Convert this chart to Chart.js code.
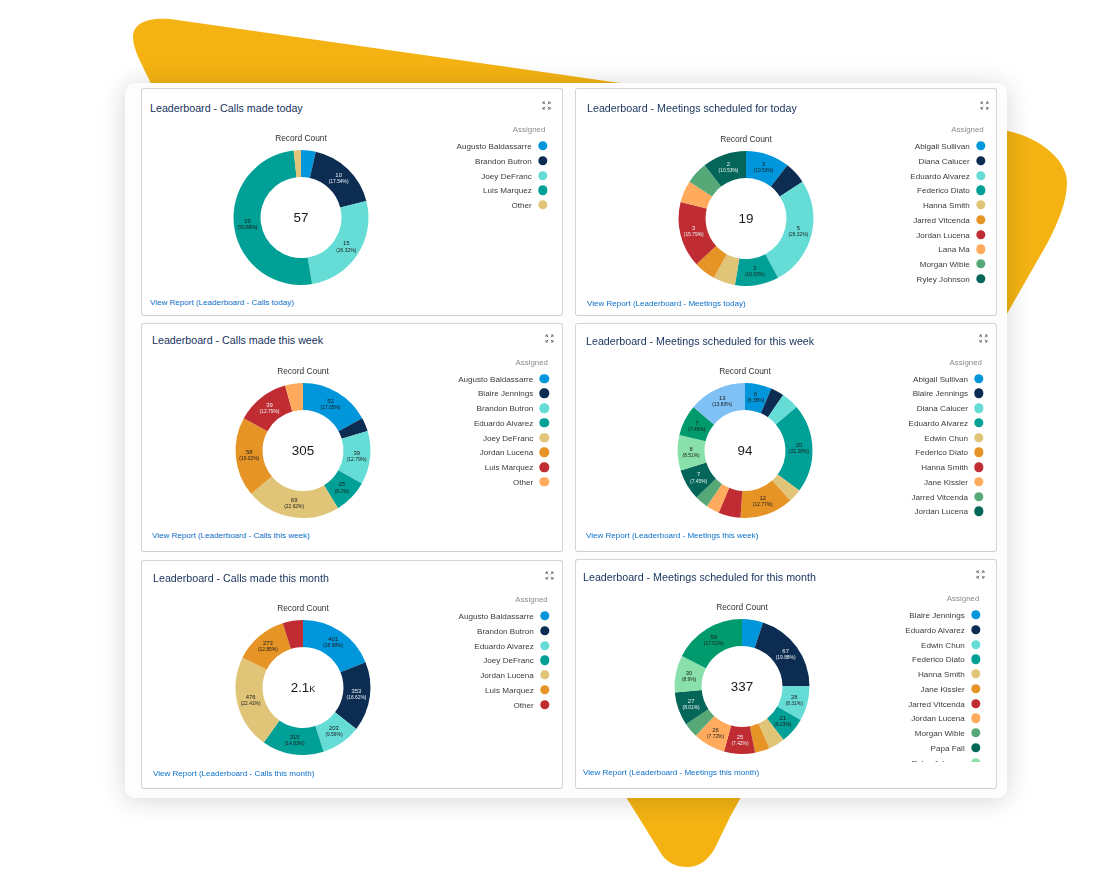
<!DOCTYPE html>
<html><head><meta charset="utf-8">
<script src="https://cdn.jsdelivr.net/npm/chart.js@4"></script>
<style>
html,body{margin:0;padding:0;background:#fff;width:1120px;height:878px;overflow:hidden;font-family:"Liberation Sans",Arial,sans-serif;}
#stage{position:absolute;left:0;top:0;width:1120px;height:878px;filter:blur(0.35px);}
#blob{position:absolute;left:0;top:0;}
#panel{position:absolute;left:125px;top:82.5px;width:882px;height:715px;background:#fdfdfd;border-radius:10px;box-shadow:0 2px 26px rgba(0,0,0,.17);}
.card{position:absolute;box-sizing:border-box;background:#fff;border:1px solid #d4d4d4;border-bottom:1.5px solid #cfcfcf;border-radius:3px;}
.ttl{position:absolute;transform:translateY(-50%);font-size:10.7px;color:#16325c;white-space:nowrap;}
.lnk{position:absolute;transform:translateY(-50%);font-size:8.05px;color:#0b6fc9;white-space:nowrap;}
.ico{position:absolute;line-height:0;}
.ico svg{display:block;}
canvas{position:absolute;}
.leg{position:absolute;overflow:hidden;}
.leg .hd{position:absolute;transform:translateY(-50%);font-size:7.9px;color:#8a8a8a;white-space:nowrap;}
.leg .it{position:absolute;transform:translateY(-50%);font-size:8.1px;color:#3b3b3b;white-space:nowrap;text-align:right;}
.leg .dot{position:absolute;width:9.4px;height:9.4px;border-radius:50%;transform:translate(-50%,-50%);}
</style></head><body>
<div id="stage">
<svg id="blob" width="1120" height="878"><path fill="#f4b313" d="M152,86 C142,64 133,50 133,37 C133,24 146,17 170,19 L613,82 L1000,130 L1008,131 C1040,138 1067,160 1067,182 C1067,202 1058,222 1048,242 L1008,312 L730,817 L714,850 C706,862 698,867 687,867 C676,867 668,863 662,855 L626,797 Z"/></svg>
<div id="panel"></div>
</div>
<script>
const stage = document.getElementById('stage');
const palette = ['#0096db','#0c2c52','#65dcd6','#00a096','#e0c478','#e79426','#bf2d32','#ffaa5c','#56a877','#046659','#8ae0aa','#009a6c','#7fc1f5'];
const lightText = ['#0c2c52','#bf2d32','#046659'];

const titles = ['Leaderboard - Calls made today','Leaderboard - Meetings scheduled for today','Leaderboard - Calls made this week','Leaderboard - Meetings scheduled for this week','Leaderboard - Calls made this month','Leaderboard - Meetings scheduled for this month'];
const links = ['View Report (Leaderboard - Calls today)','View Report (Leaderboard - Meetings today)','View Report (Leaderboard - Calls this week)','View Report (Leaderboard - Meetings this week)','View Report (Leaderboard - Calls this month)','View Report (Leaderboard - Meetings this month)'];
const centerLabels = ['57','19','305','94','2.1k','337'];
const legendVisible = [5,10,8,10,7,11];

const namesCallsToday = ['Augusto Baldassarre','Brandon Butron','Joey DeFranc','Luis Marquez','Other'];
const valuesCallsToday = [2,10,15,29,1];
const namesMeetToday = ['Abigail Sullivan','Diana Calucer','Eduardo Alvarez','Federico Diato','Hanna Smith','Jarred Vitcenda','Jordan Lucena','Lana Ma','Morgan Wible','Ryley Johnson'];
const valuesMeetToday = [2,1,5,2,1,1,3,1,1,2];
const namesCallsWeek = ['Augusto Baldassarre','Blaire Jennings','Brandon Butron','Eduardo Alvarez','Joey DeFranc','Jordan Lucena','Luis Marquez','Other'];
const valuesCallsWeek = [52,10,39,25,69,58,39,13];
const namesMeetWeek = ['Abigail Sullivan','Blaire Jennings','Diana Calucer','Eduardo Alvarez','Edwin Chun','Federico Diato','Hanna Smith','Jane Kissler','Jarred Vitcenda','Jordan Lucena','Lana Ma','Morgan Wible','Ryley Johnson'];
const valuesMeetWeek = [6,3,4,20,3,12,5,3,3,7,8,7,13];
const namesCallsMonth = ['Augusto Baldassarre','Brandon Butron','Eduardo Alvarez','Joey DeFranc','Jordan Lucena','Luis Marquez','Other'];
const valuesCallsMonth = [401,353,203,315,476,273,103];
const namesMeetMonth = ['Blaire Jennings','Eduardo Alvarez','Edwin Chun','Federico Diato','Hanna Smith','Jane Kissler','Jarred Vitcenda','Jordan Lucena','Morgan Wible','Papa Fall','Ryley Johnson','Sales Team'];
const valuesMeetMonth = [17,67,28,21,13,12,25,26,12,27,30,59];

const allNames = [namesCallsToday,namesMeetToday,namesCallsWeek,namesMeetWeek,namesCallsMonth,namesMeetMonth];
const allValues = [valuesCallsToday,valuesMeetToday,valuesCallsWeek,valuesMeetWeek,valuesCallsMonth,valuesMeetMonth];

// page layout, one row per card
const layout = [
 {l:141,t:88, r:563,b:316, tx:150,ty:108,   lx:150,ly:302.3, ix:546.7,iy:105, cx:300.5,cy:217.8, dx:542.7,dy:146,   ay:129.3, ar:545.3, clip:316},
 {l:575,t:88, r:997,b:316, tx:587,ty:108,   lx:587,ly:302.7, ix:984.7,iy:105, cx:745.7,cy:218,   dx:980.7,dy:146,   ay:129.3, ar:983.7, clip:316},
 {l:141,t:323,r:563,b:552, tx:152,ty:340.3, lx:152,ly:535,   ix:549,  iy:338, cx:302.7,cy:450.2, dx:544.3,dy:378.7, ay:362,   ar:548,   clip:552},
 {l:575,t:323,r:997,b:552, tx:586,ty:340.5, lx:586,ly:535,   ix:983,  iy:338, cx:744.7,cy:450.2, dx:979,  dy:378.7, ay:362,   ar:982,   clip:552},
 {l:141,t:560,r:563,b:789, tx:153,ty:577.5, lx:153,ly:772.7, ix:549,  iy:575, cx:302.5,cy:687.7, dx:544.7,dy:616,   ay:599,   ar:547.7, clip:789},
 {l:575,t:559,r:997,b:789, tx:583,ty:576.6, lx:583,ly:772.3, ix:980.7,iy:574, cx:741.7,cy:686.8, dx:975.7,dy:615,   ay:598.3, ar:979.3, clip:761.7}
];

const sliceLabels = {
  id:'sliceLabels',
  afterDatasetsDraw(chart){
    const ctx = chart.ctx, ds = chart.data.datasets[0];
    const total = ds.data.reduce((a,b)=>a+b,0);
    ctx.save(); ctx.textAlign='center'; ctx.textBaseline='middle';
    chart.getDatasetMeta(0).data.forEach((arc,i)=>{
      const pct = ds.data[i]/total*100;
      if (pct < 6) return;
      const p = arc.tooltipPosition();
      ctx.fillStyle = lightText.includes(ds.backgroundColor[i]) ? '#eef2f5' : '#1c1c1c';
      ctx.font = '5.9px "Liberation Sans"';
      ctx.fillText(String(ds.data[i]), p.x, p.y-3.2);
      ctx.font = '4.9px "Liberation Sans"';
      ctx.fillText('('+Number(pct.toFixed(2))+'%)', p.x, p.y+3.2);
    });
    ctx.restore();
  }
};
const centerText = {
  id:'centerText',
  afterDraw(chart,args,opts){
    const a = chart.chartArea, ctx = chart.ctx;
    ctx.save(); ctx.textAlign='center'; ctx.textBaseline='middle'; ctx.fillStyle='#1a1a1a';
    ctx.font = 'small-caps 13.4px "Liberation Sans"';
    ctx.fillText(opts.text,(a.left+a.right)/2,(a.top+a.bottom)/2+0.5);
    ctx.restore();
  }
};
const htmlLegend = {
  id:'htmlLegend',
  afterUpdate(chart,args,opts){
    const g = opts.geom, box = document.createElement('div');
    box.className='leg';
    const left = g.l+150, top = g.t+1;
    box.style.cssText = `left:${left}px;top:${top}px;width:${g.r-left-1}px;height:${g.clip-top}px`;
    const hd = document.createElement('div');
    hd.className='hd'; hd.textContent='Assigned';
    hd.style.right=(g.r-1-g.ar)+'px'; hd.style.top=(g.ay-top)+'px';
    box.appendChild(hd);
    chart.options.plugins.legend.labels.generateLabels(chart).slice(0,opts.count).forEach((it,i)=>{
      const y = g.dy+i*14.75-top;
      const t = document.createElement('div');
      t.className='it'; t.textContent=it.text;
      t.style.right=(g.r-1-(g.dx-11))+'px'; t.style.top=y+'px';
      const d = document.createElement('div');
      d.className='dot'; d.style.background=it.fillStyle;
      d.style.left=(g.dx-left)+'px'; d.style.top=y+'px';
      box.appendChild(t); box.appendChild(d);
    });
    stage.appendChild(box);
  }
};
const iconSvg = '<svg width="9" height="9" viewBox="0 0 9 9" fill="none" stroke="#6f6f6f" stroke-width="1"><path d="M1 3V1H3M1 1L3.2 3.2M6 1H8V3M8 1L5.8 3.2M1 6V8H3M1 8L3.2 5.8M8 6V8H6M8 8L5.8 5.8"/></svg>';

layout.forEach((g,i)=>{
  const card = document.createElement('div');
  card.className='card';
  card.style.cssText=`left:${g.l}px;top:${g.t}px;width:${g.r-g.l}px;height:${g.b-g.t}px`;
  stage.appendChild(card);
  const add=(cls,txt,x,y)=>{const e=document.createElement('div');e.className=cls;e.textContent=txt;e.style.left=x+'px';e.style.top=y+'px';stage.appendChild(e);return e;};
  add('ttl',titles[i],g.tx,g.ty);
  add('lnk',links[i],g.lx,g.ly);
  const ic=add('ico','',g.ix-4.5,g.iy-4.5); ic.innerHTML=iconSvg;
  const cv=document.createElement('canvas');
  const W=180,H=151;
  cv.width=W;cv.height=H;
  cv.style.width=W+'px';cv.style.height=H+'px';
  cv.style.left=(g.cx-W/2)+'px';cv.style.top=(g.cy-67.5-16)+'px';
  stage.appendChild(cv);
  new Chart(cv,{
    type:'doughnut',
    data:{labels:allNames[i],datasets:[{data:allValues[i],backgroundColor:allValues[i].map((v,k)=>palette[k]),borderWidth:0,hoverOffset:0}]},
    plugins:[sliceLabels,centerText,htmlLegend],
    options:{
      responsive:false,animation:false,cutout:'60%',
      layout:{padding:0},
      plugins:{
        legend:{display:false},
        tooltip:{enabled:false},
        title:{display:true,text:'Record Count',color:'#333',font:{family:'"Liberation Sans"',size:8.4,weight:'normal'},padding:{top:0,bottom:6}},
        centerText:{text:centerLabels[i]},
        htmlLegend:{geom:g,count:legendVisible[i]}
      }
    }
  });
});
</script>
</body></html>
